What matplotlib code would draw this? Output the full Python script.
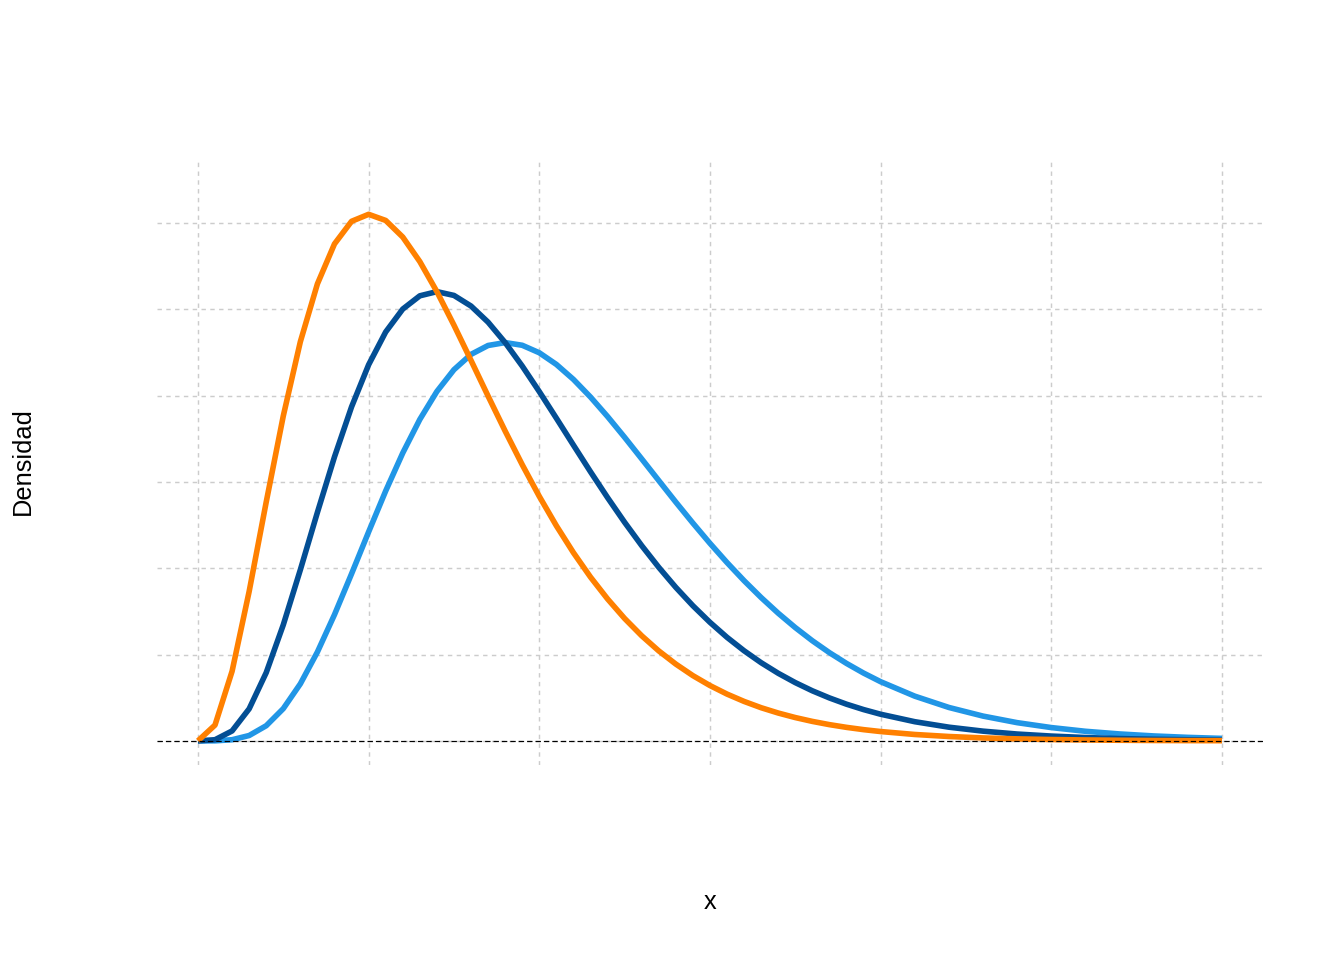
import numpy as np
import matplotlib.pyplot as plt

plt.rcParams['font.family'] = ['Liberation Sans', 'DejaVu Sans']

## densities
x_vals = [0, 0.5, 1, 1.5, 2, 2.5, 3, 3.5, 4, 4.5, 5, 5.5, 6, 6.5, 7, 7.5, 8, 8.5,
          9, 9.5, 10, 10.5, 11, 11.5, 12, 12.5, 13, 13.5, 14, 14.5, 15, 15.5,
          16, 16.5, 17, 17.5, 18, 18.5, 19, 19.5, 20,
          21, 22, 23, 24, 25, 26, 27, 28, 29, 30]

dens_orange = [0, 0.00366, 0.01613, 0.03462, 0.05535, 0.07530, 0.09251, 0.10592,
               0.11518, 0.12042, 0.12204, 0.12062, 0.11677, 0.11108, 0.10412,
               0.09635, 0.08818, 0.07991, 0.07180, 0.06401, 0.05667, 0.04986,
               0.04362, 0.03796, 0.03289, 0.02836, 0.02436, 0.02085, 0.01779,
               0.01512, 0.01282, 0.01084, 0.00914, 0.00768, 0.00645, 0.00540,
               0.00451, 0.00376, 0.00313, 0.00260, 0.00216,
               0.00148, 0.00101, 0.00068, 0.00046, 0.00031, 0.00021, 0.00014,
               0.00009, 0.00006, 0.00004]

dens_dark = [0, 0.00026, 0.00230, 0.00742, 0.01581, 0.02689, 0.03965, 0.05296,
             0.06582, 0.07741, 0.08717, 0.09477, 0.10008, 0.10315, 0.10412,
             0.10324, 0.10078, 0.09704, 0.09231, 0.08687, 0.08095, 0.07479,
             0.06855, 0.06237, 0.05638, 0.05065, 0.04525, 0.04022, 0.03557,
             0.03132, 0.02747, 0.02399, 0.02088, 0.01811, 0.01566, 0.01350,
             0.01160, 0.00995, 0.00850, 0.00725, 0.00617,
             0.00444, 0.00317, 0.00225, 0.00158, 0.00111, 0.00077, 0.00053,
             0.00037, 0.00025, 0.00017]

dens_light = [0, 0.00001, 0.00026, 0.00124, 0.00351, 0.00747, 0.01322, 0.02060,
              0.02925, 0.03871, 0.04843, 0.05792, 0.06672, 0.07450, 0.08098,
              0.08603, 0.08958, 0.09164, 0.09231, 0.09169, 0.08995, 0.08725,
              0.08378, 0.07969, 0.07517, 0.07035, 0.06536, 0.06033, 0.05533,
              0.05047, 0.04578, 0.04132, 0.03712, 0.03321, 0.02958, 0.02625,
              0.02320, 0.02044, 0.01795, 0.01571, 0.01371,
              0.01036, 0.00774, 0.00574, 0.00422, 0.00308, 0.00222, 0.00160,
              0.00114, 0.00081, 0.00057]

x_breaks = [0, 5, 10, 15, 20, 25, 30]
y_breaks = [0, 0.02, 0.04, 0.06, 0.08, 0.10, 0.12]

fig = plt.figure(figsize=(14, 10), dpi=96)
ax = fig.add_axes([0.1168, 0.2031, 0.8229, 0.6292])

## curves: light first, orange on top
line_kw = dict(lw=4.2, solid_capstyle='butt', solid_joinstyle='round')
ax.plot(x_vals, dens_light, color='#2196E6', zorder=3, **line_kw)
ax.plot(x_vals, dens_dark, color='#034E94', zorder=4, **line_kw)
ax.plot(x_vals, dens_orange, color='#FF8000', zorder=5, **line_kw)
ax.axhline(0, color='black', lw=0.9, linestyle=(0, (4.5, 2.5)), zorder=6)

ax.set_xlim(-1.2, 31.2)
ax.set_ylim(-0.0056, 0.1344)
ax.set_xticks(x_breaks)
ax.set_yticks(y_breaks)
ax.grid(True, color='#CCCCCC', lw=1.1, linestyle=(0, (3, 3)), zorder=0)
ax.set_axisbelow(True)
ax.tick_params(length=0, labelbottom=False, labelleft=False)
for s in ax.spines.values():
    s.set_visible(False)

fig.text(710/1344, 1 - 902/960, 'x', ha='center', va='center', fontsize=19)
fig.text(23/1344, 1 - 461/960, 'Densidad', ha='center', va='center',
         rotation=90, fontsize=19)

fig.savefig('out.png', dpi=96)
